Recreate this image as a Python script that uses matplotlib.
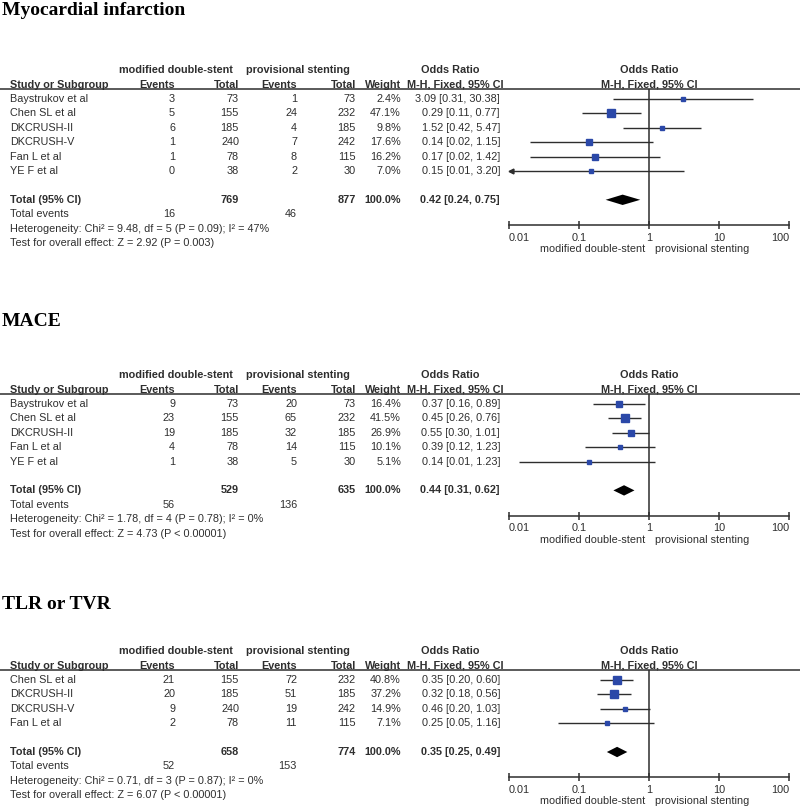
import matplotlib.pyplot as plt
from matplotlib.ticker import NullLocator

plt.rcParams['font.family'] = ['Liberation Sans', 'DejaVu Sans']

# ---- data: Myocardial infarction
mi_studies = ['Baystrukov et al', 'Chen SL et al', 'DKCRUSH-II', 'DKCRUSH-V', 'Fan L et al', 'YE F et al']
mi_ev1 = [3, 5, 6, 1, 1, 0]
mi_tot1 = [73, 155, 185, 240, 78, 38]
mi_ev2 = [1, 24, 4, 7, 8, 2]
mi_tot2 = [73, 232, 185, 242, 115, 30]
mi_weight = [2.4, 47.1, 9.8, 17.6, 16.2, 7.0]
mi_or = [3.09, 0.29, 1.52, 0.14, 0.17, 0.15]
mi_lo = [0.31, 0.11, 0.42, 0.02, 0.02, 0.007]
mi_hi = [30.38, 0.77, 5.47, 1.15, 1.42, 3.20]
mi_total = [769, 877]
mi_total_events = [16, 46]
mi_pooled = [0.42, 0.24, 0.75]
mi_het = 'Heterogeneity: Chi² = 9.48, df = 5 (P = 0.09); I² = 47%'
mi_test = 'Test for overall effect: Z = 2.92 (P = 0.003)'

# ---- data: MACE
mace_studies = ['Baystrukov et al', 'Chen SL et al', 'DKCRUSH-II', 'Fan L et al', 'YE F et al']
mace_ev1 = [9, 23, 19, 4, 1]
mace_tot1 = [73, 155, 185, 78, 38]
mace_ev2 = [20, 65, 32, 14, 5]
mace_tot2 = [73, 232, 185, 115, 30]
mace_weight = [16.4, 41.5, 26.9, 10.1, 5.1]
mace_or = [0.37, 0.45, 0.55, 0.39, 0.14]
mace_lo = [0.16, 0.26, 0.30, 0.12, 0.014]
mace_hi = [0.89, 0.76, 1.01, 1.23, 1.23]
mace_total = [529, 635]
mace_total_events = [56, 136]
mace_pooled = [0.44, 0.31, 0.62]
mace_het = 'Heterogeneity: Chi² = 1.78, df = 4 (P = 0.78); I² = 0%'
mace_test = 'Test for overall effect: Z = 4.73 (P < 0.00001)'

# ---- data: TLR or TVR
tlr_studies = ['Chen SL et al', 'DKCRUSH-II', 'DKCRUSH-V', 'Fan L et al']
tlr_ev1 = [21, 20, 9, 2]
tlr_tot1 = [155, 185, 240, 78]
tlr_ev2 = [72, 51, 19, 11]
tlr_tot2 = [232, 185, 242, 115]
tlr_weight = [40.8, 37.2, 14.9, 7.1]
tlr_or = [0.35, 0.32, 0.46, 0.25]
tlr_lo = [0.20, 0.18, 0.20, 0.05]
tlr_hi = [0.60, 0.56, 1.03, 1.16]
tlr_total = [658, 774]
tlr_total_events = [52, 153]
tlr_pooled = [0.35, 0.25, 0.49]
tlr_het = 'Heterogeneity: Chi² = 0.71, df = 3 (P = 0.87); I² = 0%'
tlr_test = 'Test for overall effect: Z = 6.07 (P < 0.00001)'

ticks = [0.01, 0.1, 1, 10, 100]
tick_labels = ['0.01', '0.1', '1', '10', '100']

# layout (pixels)
W, H = 800, 807
RH = 14.4
GREY = '#2e2e2e'
BLUE = '#2b48a8'
FS = 7.8
X_NAME, X_EV1, X_TOT1, X_EV2, X_TOT2, X_W, X_OR = 10, 175, 239, 297, 356, 401, 500
X_P0, X_P1 = 509, 789

fig = plt.figure(figsize=(8, 8.07), dpi=100)
canvas = fig.add_axes([0, 0, 1, 1])
canvas.set_xlim(0, W)
canvas.set_ylim(H, 0)
canvas.axis('off')


def txt(x, y, s, ha='left', bold=False, **kw):
    canvas.text(x, y, s, ha=ha, va='center', fontsize=FS, color=GREY,
                fontweight='bold' if bold else 'normal', **kw)


def draw_panel(title, title_y, y0, studies, ev1, tot1, ev2, tot2, weight,
               orr, lo, hi, total, total_events, pooled, het, test):
    n = len(studies)
    canvas.text(2, title_y, title, ha='left', va='baseline', fontsize=14,
                fontweight='bold', family='Liberation Serif', color='black')

    # header
    yh1, yh2 = y0 - 2 * RH, y0 - RH
    txt(176, yh1, 'modified double-stent', ha='center', bold=True)
    txt(298, yh1, 'provisional stenting', ha='center', bold=True)
    txt(450, yh1, 'Odds Ratio', ha='center', bold=True)
    txt(649, yh1, 'Odds Ratio', ha='center', bold=True)
    txt(X_NAME, yh2, 'Study or Subgroup', bold=True)
    txt(X_EV1, yh2, 'Events', ha='right', bold=True)
    txt(X_TOT1, yh2, 'Total', ha='right', bold=True)
    txt(X_EV2, yh2, 'Events', ha='right', bold=True)
    txt(X_TOT2, yh2, 'Total', ha='right', bold=True)
    txt(X_W, yh2, 'Weight', ha='right', bold=True)
    txt(455, yh2, 'M-H, Fixed, 95% CI', ha='center', bold=True)
    txt(649, yh2, 'M-H, Fixed, 95% CI', ha='center', bold=True)
    y_rule = y0 - 0.7 * RH
    canvas.plot([0, W], [y_rule, y_rule], color=GREY, lw=1.1)

    # study rows
    for i in range(n):
        y = y0 + i * RH
        txt(X_NAME, y, studies[i])
        txt(X_EV1, y, str(ev1[i]), ha='right')
        txt(X_TOT1, y, str(tot1[i]), ha='right')
        txt(X_EV2, y, str(ev2[i]), ha='right')
        txt(X_TOT2, y, str(tot2[i]), ha='right')
        txt(X_W, y, f'{weight[i]:.1f}%', ha='right')
        txt(X_OR, y, f'{orr[i]:.2f} [{lo[i]:.2f}, {hi[i]:.2f}]', ha='right')

    yt = y0 + (n + 1) * RH
    txt(X_NAME, yt, 'Total (95% CI)', bold=True)
    txt(X_TOT1, yt, str(total[0]), ha='right', bold=True)
    txt(X_TOT2, yt, str(total[1]), ha='right', bold=True)
    txt(X_W, yt, '100.0%', ha='right', bold=True)
    txt(X_OR, yt, f'{pooled[0]:.2f} [{pooled[1]:.2f}, {pooled[2]:.2f}]', ha='right', bold=True)
    txt(X_NAME, yt + RH, 'Total events')
    txt(X_EV1, yt + RH, str(total_events[0]), ha='right')
    txt(X_EV2, yt + RH, str(total_events[1]), ha='right')
    txt(X_NAME, yt + 2 * RH, het)
    txt(X_NAME, yt + 3 * RH, test)

    # forest axes
    bottom_rows = n + 2.75
    y_axis = y0 + bottom_rows * RH
    ax = fig.add_axes([X_P0 / W, 1 - y_axis / H, (X_P1 - X_P0) / W, (y_axis - y_rule) / H])
    ax.set_facecolor('none')
    ax.set_xscale('log')
    ax.set_xlim(0.01, 100)
    ax.set_ylim(bottom_rows, -0.7)
    for s in ['top', 'left', 'right']:
        ax.spines[s].set_visible(False)
    ax.spines['bottom'].set_color(GREY)
    ax.spines['bottom'].set_linewidth(1.1)
    ax.set_yticks([])
    ax.xaxis.set_minor_locator(NullLocator())
    ax.set_xticks(ticks)
    ax.set_xticklabels(tick_labels, fontsize=FS, color=GREY)
    ax.tick_params(axis='x', direction='inout', length=6, width=1.1, color=GREY, pad=2.5)
    labs = ax.get_xticklabels()
    labs[0].set_ha('left')
    labs[-1].set_ha('right')
    ax.axvline(1, color=GREY, lw=1.1)

    for i in range(n):
        x0 = max(lo[i], 0.01)
        ax.plot([x0, hi[i]], [i, i], color=GREY, lw=1.0, solid_capstyle='butt')
        if lo[i] < 0.01:
            ax.plot([0.0106], [i], marker='<', ms=3.5, color=GREY, clip_on=False)
        side = 1.25 * weight[i] ** 0.5 * 0.72
        ax.plot([orr[i]], [i], marker='s', ms=max(side, 2.2), color=BLUE, mec=BLUE, lw=0)

    est, plo, phi = pooled
    ax.fill([plo, est, phi, est], [n + 1, n + 1 - 0.36, n + 1, n + 1 + 0.36],
            color='black', lw=0)

    txt(645, y_axis + 24, 'modified double-stent', ha='right')
    txt(655, y_axis + 24, 'provisional stenting')


draw_panel('Myocardial infarction', 15, 99, mi_studies, mi_ev1, mi_tot1, mi_ev2, mi_tot2,
           mi_weight, mi_or, mi_lo, mi_hi, mi_total, mi_total_events, mi_pooled, mi_het, mi_test)
draw_panel('MACE', 326, 404, mace_studies, mace_ev1, mace_tot1, mace_ev2, mace_tot2,
           mace_weight, mace_or, mace_lo, mace_hi, mace_total, mace_total_events, mace_pooled,
           mace_het, mace_test)
draw_panel('TLR or TVR', 609, 680, tlr_studies, tlr_ev1, tlr_tot1, tlr_ev2, tlr_tot2,
           tlr_weight, tlr_or, tlr_lo, tlr_hi, tlr_total, tlr_total_events, tlr_pooled,
           tlr_het, tlr_test)

fig.savefig('out.png', dpi=100)
